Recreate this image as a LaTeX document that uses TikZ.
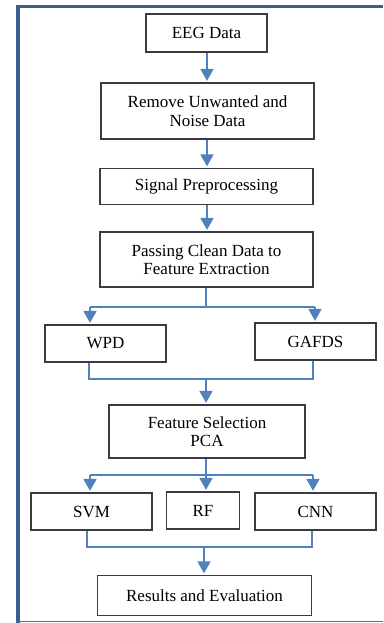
\documentclass[tikz,border=0pt]{standalone}
\usepackage{fontspec}
\setmainfont{Liberation Serif}
\usetikzlibrary{arrows.meta,calc}
\definecolor{frameblue}{HTML}{3A5E8E}
\definecolor{framelight}{HTML}{4A70A8}
\definecolor{connblue}{HTML}{4F81BD}
\definecolor{boxgray}{HTML}{3C3C3C}
\tikzset{
  stepbox/.style={draw=boxgray,line width=1.3pt,rectangle,inner sep=0pt,align=center,
    font=\fontsize{17}{18.5}\selectfont},
  conn/.style={draw=connblue,line width=1.8pt},
  arr/.style={conn,-{Triangle[width=13pt,length=12pt]},shorten >=1.5pt},
}
\begin{document}
\begin{tikzpicture}[x=1pt,y=-1pt]
\useasboundingbox (0,0) rectangle (383,623);
% frame
\draw[frameblue,line width=3.5pt] (16,6.5) -- (383,6.5);
\draw[frameblue,line width=4pt] (18,4.75) -- (18,622.5);
\draw[framelight,line width=1.5pt] (16,621.5) -- (383,621.5);
% boxes
\node[stepbox,minimum width=121pt,minimum height=38pt] (eeg) at (206.5,33) {EEG Data};
\node[stepbox,minimum width=213pt,minimum height=56pt] (rem) at (207.5,111) {Remove Unwanted and\\Noise Data};
\node[stepbox,minimum width=213pt,minimum height=36pt] (sig) at (206.5,186.5) {Signal Preprocessing};
\node[stepbox,minimum width=213pt,minimum height=55pt] (pas) at (206.5,259.5) {Passing Clean Data to\\Feature Extraction};
\node[stepbox,minimum width=121pt,minimum height=37pt] (wpd) at (105.5,343.5) {WPD};
\node[stepbox,minimum width=121pt,minimum height=37pt] (gaf) at (315.5,341.5) {GAFDS};
\node[stepbox,minimum width=196pt,minimum height=53pt] (fs) at (207,431.5) {Feature Selection\\PCA};
\node[stepbox,minimum width=121pt,minimum height=37pt] (svm) at (91.5,511.5) {SVM};
\node[stepbox,minimum width=73pt,minimum height=37pt] (rf) at (203,510.5) {RF};
\node[stepbox,minimum width=121pt,minimum height=37pt] (cnn) at (315.5,511.5) {CNN};
\node[stepbox,minimum width=214pt,minimum height=40pt] (res) at (204.5,595.5) {Results and Evaluation};
% straight arrows
\draw[arr] (eeg.south -| 207,0) -- (rem.north -| 207,0);
\draw[arr] (rem.south -| 207,0) -- (sig.north -| 207,0);
\draw[arr] (sig.south -| 207,0) -- (pas.north -| 207,0);
% split 1
\coordinate (s1) at (206,307);
\draw[conn] (pas.south -| s1) -- (s1);
\draw[conn] (90,307) -- (315,307);
\draw[arr] (90,307) -- (wpd.north -| 90,0);
\draw[arr] (315,307) -- (gaf.north -| 315,0);
% merge 1
\coordinate (m1) at (206,379);
\draw[conn] (wpd.south -| 89,0) -- (89,379) -- (313,379) -- (gaf.south -| 313,0);
\draw[arr] (m1) -- (fs.north -| m1);
% split 2
\coordinate (s2) at (206,475);
\draw[conn] (fs.south -| s2) -- (s2);
\draw[conn] (90,475) -- (313,475);
\draw[arr] (90,475) -- (svm.north -| 90,0);
\draw[arr] (s2) -- (rf.north -| s2);
\draw[arr] (313,475) -- (cnn.north -| 313,0);
% merge 2
\coordinate (m2) at (204,547);
\draw[conn] (svm.south -| 87,0) -- (87,547) -- (312,547) -- (cnn.south -| 312,0);
\draw[arr] (m2) -- (res.north -| m2);
\end{tikzpicture}
\end{document}
